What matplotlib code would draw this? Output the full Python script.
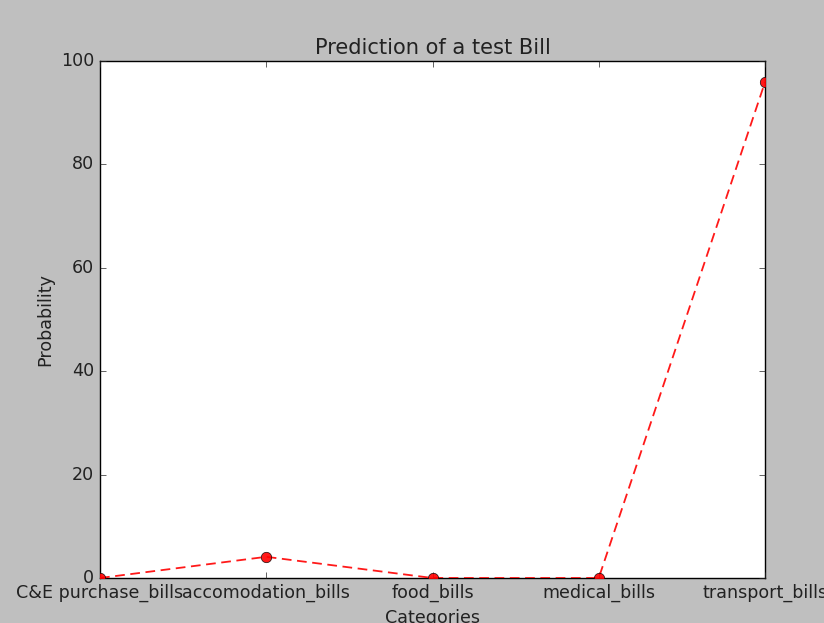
import matplotlib
matplotlib.use("Agg")
import matplotlib.pyplot as plt

categories = ["C&E purchase_bills", "accomodation_bills", "food_bills",
              "medical_bills", "transport_bills"]
probability = [0.0, 4.1, 0.0, 0.0, 95.9]

plt.style.use("classic")
plt.rcParams["font.size"] = 12.6
plt.rcParams["text.color"] = "#222222"
plt.rcParams["xtick.color"] = "#222222"
plt.rcParams["ytick.color"] = "#222222"
plt.rcParams["axes.labelcolor"] = "#222222"

fig = plt.figure(figsize=(8.24, 6.23), dpi=100, facecolor="#bfbfbf")
ax = fig.add_axes([100 / 824, 45 / 623, 665 / 824, 517 / 623])

x = list(range(len(categories)))
ax.plot(x, probability, "r--o", linewidth=1.3, markersize=7.5,
        dashes=(7, 4), alpha=0.9, zorder=3)
ax.set_xticks(x)
ax.set_xticklabels(categories)
ax.set_xlim(0, len(categories) - 1)
ax.set_ylim(0, 100)
ax.set_title("Prediction of a test Bill")
ax.set_xlabel("Categories")
ax.set_ylabel("Probability")

fig.savefig("out.png", dpi=100, facecolor=fig.get_facecolor())
